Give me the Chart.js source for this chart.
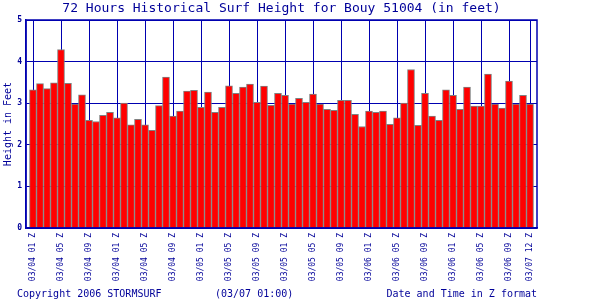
<!DOCTYPE html>
<html>
<head>
<meta charset="utf-8">
<script src="https://cdn.jsdelivr.net/npm/chart.js@4.4.0/dist/chart.umd.min.js"></script>
<style>
  html, body { margin: 0; padding: 0; background: #fff; }
  #wrap { width: 600px; height: 300px; }
</style>
</head>
<body>
<div id="wrap"><canvas id="surf" width="600" height="300"></canvas></div>
<script>
// hourly surf height (feet), 03/04 01Z .. 03/07 00Z
var heights = [
    3.32, 3.47, 3.35, 3.49, 4.29, 3.48, 2.98, 3.20, 2.59, 2.56, 2.71, 2.78,
    2.65, 3.00, 2.48, 2.61, 2.48, 2.35, 2.94, 3.63, 2.69, 2.81, 3.29, 3.31,
    2.90, 3.27, 2.78, 2.90, 3.42, 3.24, 3.39, 3.46, 3.02, 3.41, 2.95, 3.24,
    3.19, 2.98, 3.12, 3.02, 3.22, 2.98, 2.85, 2.83, 3.07, 3.07, 2.73, 2.44,
    2.81, 2.78, 2.81, 2.49, 2.65, 3.00, 3.81, 2.47, 3.24, 2.69, 2.59, 3.32,
    3.19, 2.85, 3.39, 2.93, 2.93, 3.70, 2.98, 2.88, 3.53, 2.98, 3.19, 2.98
];
var hours = heights.map(function(v, i) { return i; });

// which hours get a label + grid line
var tickHours = [0, 4, 8, 12, 16, 20, 24, 28, 32, 36, 40, 44, 48, 52, 56, 60, 64, 68, 71];
var tickLabels = [
    '03/04 01 Z', '03/04 05 Z', '03/04 09 Z', '03/04 01 Z', '03/04 05 Z', '03/04 09 Z',
    '03/05 01 Z', '03/05 05 Z', '03/05 09 Z', '03/05 01 Z', '03/05 05 Z', '03/05 09 Z',
    '03/06 01 Z', '03/06 05 Z', '03/06 09 Z', '03/06 01 Z', '03/06 05 Z', '03/06 09 Z',
    '03/07 12 Z'
];
var yTicks = [0, 1, 2, 3, 4, 5];

var titleText = '72 Hours Historical Surf Height for Bouy 51004 (in feet)';
var copyText = 'Copyright 2006 STORMSURF';
var stampText = '(03/07 01:00)';

var textColor = '#000099';
var lineColor = '#0000b0';
var mono = '"DejaVu Sans Mono", "Liberation Mono", monospace';

var decor = {
    id: 'decor',
    afterDraw: function(chart) {
        var ctx = chart.ctx;
        var a = chart.chartArea;
        ctx.save();
        // frame
        ctx.strokeStyle = lineColor;
        ctx.lineWidth = 1.5;
        ctx.strokeRect(a.left, a.top, a.right - a.left, a.bottom - a.top);
        // texts
        ctx.fillStyle = textColor;
        ctx.textBaseline = 'middle';
        ctx.font = '13px ' + mono;
        ctx.textAlign = 'center';
        ctx.fillText(titleText, (a.left + a.right) / 2, 9);
        ctx.font = '10px ' + mono;
        ctx.textAlign = 'left';
        ctx.fillText(copyText, 17, 294);
        ctx.fillText(stampText, 215, 294);
        ctx.restore();
    }
};

new Chart(document.getElementById('surf').getContext('2d'), {
    type: 'bar',
    data: {
        datasets: [{
            data: hours.map(function(h, i) { return { x: h, y: heights[i] }; }),
            backgroundColor: '#ff0000',
            borderColor: '#808080',
            borderWidth: 1,
            barPercentage: 1,
            categoryPercentage: 1
        }]
    },
    options: {
        responsive: false,
        animation: false,
        events: [],
        layout: { padding: { top: 20, right: 63, left: 0, bottom: 0 } },
        plugins: {
            legend: { display: false },
            title: { display: false },
            tooltip: { enabled: false }
        },
        scales: {
            x: {
                type: 'linear',
                min: -1,
                max: 72,
                offset: false,
                afterBuildTicks: function(s) {
                    s.ticks = tickHours.map(function(v) { return { value: v }; });
                },
                afterFit: function(s) { s.height = 72; },
                grid: { color: lineColor, lineWidth: 1, drawTicks: false, offset: false },
                border: { color: lineColor, width: 1.5 },
                ticks: {
                    autoSkip: false,
                    minRotation: 90,
                    maxRotation: 90,
                    padding: 5,
                    color: textColor,
                    font: { family: mono, size: 8 },
                    callback: function(v) {
                        var k = tickHours.indexOf(v);
                        return k >= 0 ? tickLabels[k] : '';
                    }
                },
                title: {
                    display: true,
                    text: 'Date and Time in Z format',
                    align: 'end',
                    color: textColor,
                    font: { family: mono, size: 10 },
                    padding: { top: 0, bottom: 0 }
                }
            },
            y: {
                min: 0,
                max: 5,
                afterBuildTicks: function(s) {
                    s.ticks = yTicks.map(function(v) { return { value: v }; });
                },
                afterFit: function(s) { s.width = 26; },
                grid: { color: lineColor, lineWidth: 1, drawTicks: false },
                border: { color: lineColor, width: 1.5 },
                ticks: {
                    padding: 4,
                    color: textColor,
                    font: { family: mono, size: 8, weight: 'bold' }
                },
                title: {
                    display: true,
                    text: 'Height in Feet',
                    color: textColor,
                    font: { family: mono, size: 10 },
                    padding: { top: 2, bottom: 0 }
                }
            }
        }
    },
    plugins: [decor]
});
</script>
</body>
</html>
